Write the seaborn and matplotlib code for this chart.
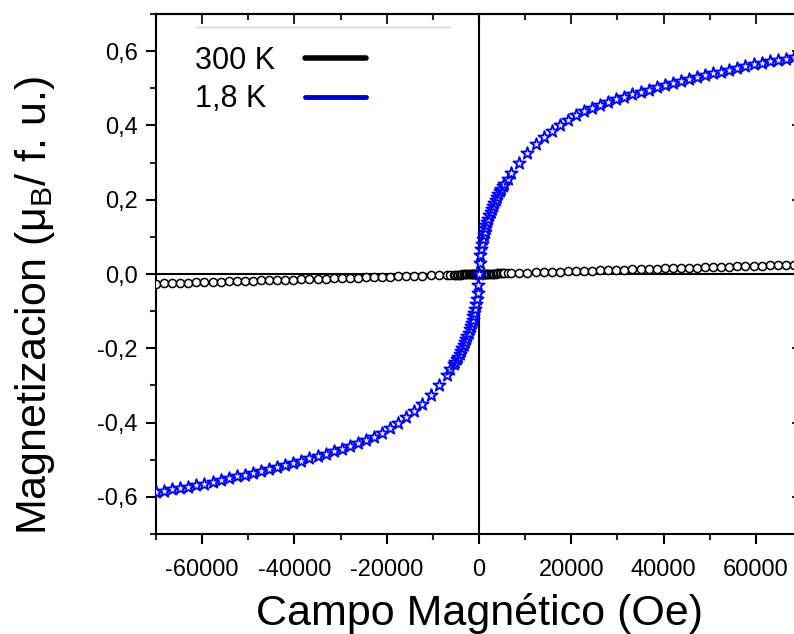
import matplotlib
matplotlib.use("Agg")
import matplotlib.pyplot as plt
import seaborn as sns
import pandas as pd
from matplotlib.lines import Line2D
from matplotlib.ticker import MultipleLocator, FixedLocator, FixedFormatter

# ---------------- data ----------------
field_oe = [
    -70000, -68250, -66500, -64750, -63000, -61250, -59500, -57750, -56000, -54250,
    -52500, -50750, -49000, -47250, -45500, -43750, -42000, -40250, -38500, -36750,
    -35000, -33250, -31500, -29750, -28000, -26250, -24500, -22750, -21000, -19250,
    -17500, -15750, -14000, -12250, -10500, -8750, -7000, -6200, -5400, -5100,
    -4800, -4500, -4200, -3900, -3600, -3300, -3000, -2750, -2500, -2250,
    -2000, -1800, -1600, -1400, -1200, -1000, -800, -600, -450, -300, -150,
    0, 150, 300, 450, 600, 800, 1000, 1200, 1400, 1600,
    1800, 2000, 2250, 2500, 2750, 3000, 3300, 3600, 3900, 4200,
    4500, 4800, 5100, 5400, 6200, 7000, 8750, 10500, 12250, 14000,
    15750, 17500, 19250, 21000, 22750, 24500, 26250, 28000, 29750, 31500,
    33250, 35000, 36750, 38500, 40250, 42000, 43750, 45500, 47250, 49000,
    50750, 52500, 54250, 56000, 57750, 59500, 61250, 63000, 64750, 66500,
    68250, 70000,
]

m_300K = [
    -0.0259, -0.02525, -0.02461, -0.02396, -0.02331, -0.02266, -0.02202, -0.02137, -0.02072, -0.02007,
    -0.01943, -0.01878, -0.01813, -0.01748, -0.01684, -0.01619, -0.01554, -0.01489, -0.01425, -0.0136,
    -0.01295, -0.0123, -0.01166, -0.01101, -0.01036, -0.00971, -0.00907, -0.00842, -0.00777, -0.00712,
    -0.00648, -0.00583, -0.00518, -0.00453, -0.00389, -0.00324, -0.00259, -0.00229, -0.002, -0.00189,
    -0.00178, -0.00167, -0.00155, -0.00144, -0.00133, -0.00122, -0.00111, -0.00102, -0.00093, -0.00083,
    -0.00074, -0.00067, -0.00059, -0.00052, -0.00044, -0.00037, -0.0003, -0.00022, -0.00017, -0.00011, -0.00006,
    0.0, 0.00006, 0.00011, 0.00017, 0.00022, 0.0003, 0.00037, 0.00044, 0.00052, 0.00059,
    0.00067, 0.00074, 0.00083, 0.00093, 0.00102, 0.00111, 0.00122, 0.00133, 0.00144, 0.00155,
    0.00167, 0.00178, 0.00189, 0.002, 0.00229, 0.00259, 0.00324, 0.00389, 0.00453, 0.00518,
    0.00583, 0.00648, 0.00712, 0.00777, 0.00842, 0.00907, 0.00971, 0.01036, 0.01101, 0.01166,
    0.0123, 0.01295, 0.0136, 0.01425, 0.01489, 0.01554, 0.01619, 0.01684, 0.01748, 0.01813,
    0.01878, 0.01943, 0.02007, 0.02072, 0.02137, 0.02202, 0.02266, 0.02331, 0.02396, 0.02461,
    0.02525, 0.0259,
]

m_1p8K = [
    -0.586, -0.583, -0.580, -0.576, -0.573, -0.569, -0.566, -0.561, -0.555, -0.550,
    -0.545, -0.540, -0.535, -0.530, -0.525, -0.520, -0.515, -0.509, -0.503, -0.496,
    -0.490, -0.484, -0.477, -0.471, -0.463, -0.456, -0.448, -0.438, -0.427, -0.414,
    -0.401, -0.385, -0.368, -0.350, -0.326, -0.300, -0.272, -0.257, -0.242, -0.236,
    -0.230, -0.223, -0.216, -0.208, -0.200, -0.192, -0.183, -0.175, -0.167, -0.158,
    -0.148, -0.140, -0.132, -0.123, -0.114, -0.104, -0.093, -0.080, -0.068, -0.052, -0.030,
    0.000, 0.030, 0.052, 0.068, 0.080, 0.093, 0.104, 0.114, 0.123, 0.132,
    0.140, 0.148, 0.158, 0.167, 0.175, 0.183, 0.192, 0.200, 0.208, 0.216,
    0.223, 0.230, 0.236, 0.242, 0.257, 0.272, 0.300, 0.326, 0.350, 0.368,
    0.385, 0.401, 0.414, 0.427, 0.438, 0.448, 0.456, 0.463, 0.471, 0.477,
    0.484, 0.490, 0.496, 0.503, 0.509, 0.515, 0.520, 0.525, 0.530, 0.535,
    0.540, 0.545, 0.550, 0.555, 0.561, 0.566, 0.569, 0.573, 0.576, 0.580,
    0.583, 0.586,
]

series_labels = ["300 K", "1,8 K"]
xtick_values = [-60000, -40000, -20000, 0, 20000, 40000, 60000]
xtick_labels = ["-60000", "-40000", "-20000", "0", "20000", "40000", "60000"]
ytick_values = [-0.6, -0.4, -0.2, 0.0, 0.2, 0.4, 0.6]
ytick_labels = ["-0,6", "-0,4", "-0,2", "0,0", "0,2", "0,4", "0,6"]

# ---------------- style ----------------
sns.set_theme(style="white")
plt.rcParams["font.family"] = ["Liberation Sans", "DejaVu Sans"]
plt.rcParams["text.color"] = "black"
plt.rcParams["axes.unicode_minus"] = False
plt.rcParams["mathtext.fontset"] = "custom"
plt.rcParams["mathtext.rm"] = "Liberation Sans"
plt.rcParams["mathtext.it"] = "Liberation Sans:italic"

df = pd.DataFrame({"H": field_oe, "M300": m_300K, "M18": m_1p8K})

fig = plt.figure(figsize=(7.94, 6.34), dpi=100)
ax = fig.add_axes([156 / 794, 100 / 634, 646 / 794, 520 / 634])

ax.axhline(0, color="black", lw=1.5, zorder=1)
ax.axvline(0, color="black", lw=1.5, zorder=1)

sns.scatterplot(data=df, x="H", y="M300", marker="o", s=34, color="white",
                edgecolor="black", linewidth=1.1, ax=ax, zorder=3, legend=False)
sns.scatterplot(data=df, x="H", y="M18", marker="*", s=85, color="#dfe4ff",
                edgecolor="#0000FF", linewidth=1.3, ax=ax, zorder=4, legend=False)

ax.set_xlim(-70000, 70000)
ax.set_ylim(-0.7, 0.7)

ax.xaxis.set_major_locator(FixedLocator(xtick_values))
ax.xaxis.set_major_formatter(FixedFormatter(xtick_labels))
ax.xaxis.set_minor_locator(MultipleLocator(10000))
ax.yaxis.set_major_locator(FixedLocator(ytick_values))
ax.yaxis.set_major_formatter(FixedFormatter(ytick_labels))
ax.yaxis.set_minor_locator(MultipleLocator(0.1))

for sp in ax.spines.values():
    sp.set_linewidth(1.5)
    sp.set_color("black")

ax.tick_params(axis="both", which="major", direction="out", length=7, width=1.5,
               labelsize=17, color="black", labelcolor="black", pad=11,
               bottom=True, left=True, top=False, right=False)
ax.tick_params(axis="y", which="major", pad=6)
ax.tick_params(axis="both", which="minor", direction="out", length=4, width=1.5,
               bottom=True, left=True, top=False, right=False)

# mirrored inward ticks on top and right
top = ax.secondary_xaxis("top")
top.xaxis.set_major_locator(FixedLocator(xtick_values))
top.xaxis.set_minor_locator(MultipleLocator(10000))
top.tick_params(which="major", direction="in", length=7, width=1.5, labeltop=False)
top.tick_params(which="minor", direction="in", length=4, width=1.5)
top.spines["top"].set_linewidth(1.5)
right = ax.secondary_yaxis("right")
right.yaxis.set_major_locator(FixedLocator(ytick_values))
right.yaxis.set_minor_locator(MultipleLocator(0.1))
right.tick_params(which="major", direction="in", length=7, width=1.5, labelright=False)
right.tick_params(which="minor", direction="in", length=4, width=1.5)

ax.set_xlabel("Campo Magnético (Oe)", fontsize=31, color="black")
ax.set_ylabel("Magnetizacion (μ$_\\mathregular{B}$/ f. u.)", fontsize=31, color="black")
ax.xaxis.set_label_coords(0.5, -0.113)
ax.yaxis.set_label_coords(-0.153, 0.44)

handles = [Line2D([], [], color="black", lw=4),
           Line2D([], [], color="#0000CC", lw=3.5)]
leg = ax.legend(handles, series_labels, loc="upper left",
                bbox_to_anchor=(0.028, 0.98), frameon=False, markerfirst=False,
                fontsize=22, handlelength=2.0, handletextpad=0.95,
                labelspacing=0.28, borderpad=0.2)
for t in leg.get_texts():
    t.set_color("black")

# left-align the legend texts while keeping the line handles in one column
fig.canvas.draw()
renderer = fig.canvas.get_renderer()
texts = leg.get_texts()
widths = [t.get_window_extent(renderer).width for t in texts]
wmax = max(widths)
column = leg._legend_handle_box.get_children()[0]
for item, w in zip(column.get_children(), widths):
    item.sep = item.sep + (wmax - w) * 72.0 / fig.dpi

ax.add_line(Line2D([0.06, 0.455], [0.975, 0.975], transform=ax.transAxes,
                   color="#d8d8d8", lw=1.0, zorder=5))

fig.savefig("out.png", dpi=100)
